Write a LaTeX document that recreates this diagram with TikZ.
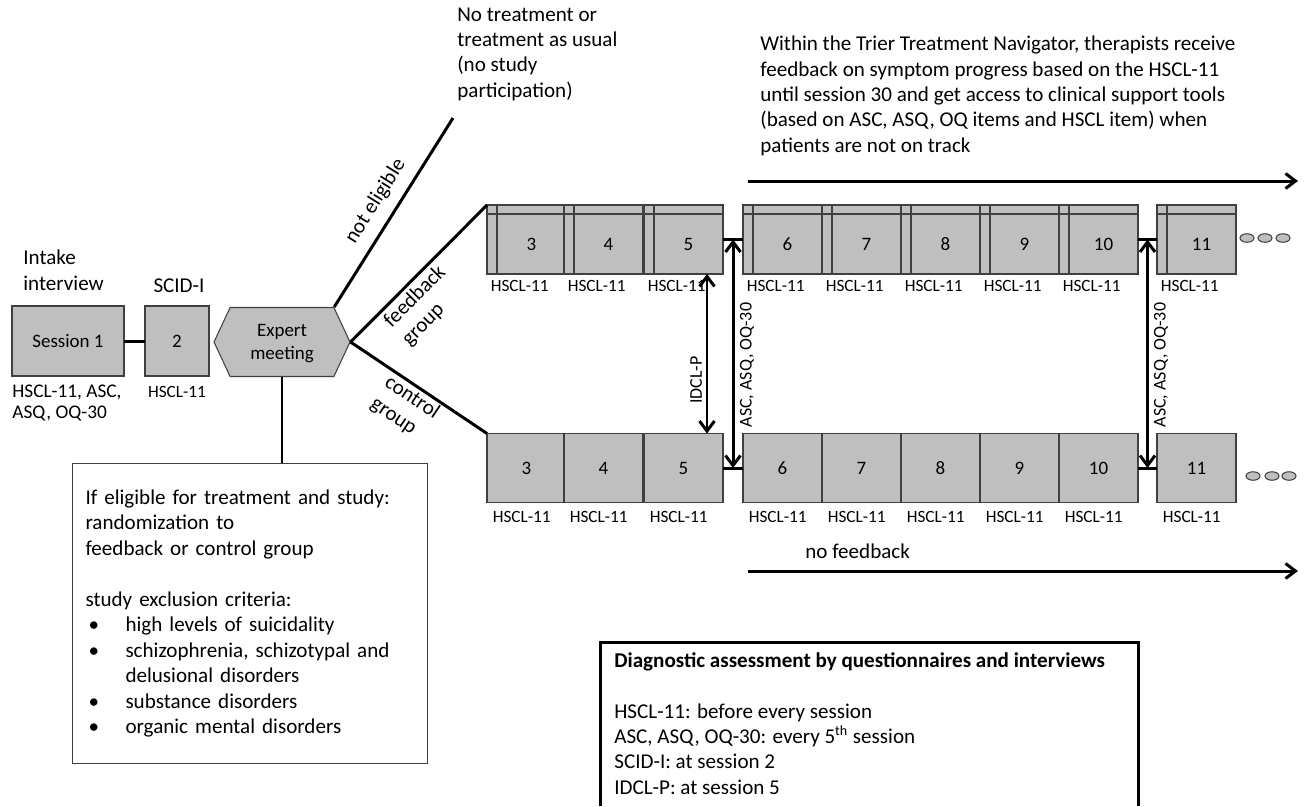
\documentclass[tikz,border=0pt]{standalone}
\usepackage{fontspec}
\setmainfont{Carlito}
\usetikzlibrary{arrows.meta,positioning,shapes.geometric,shapes.symbols,calc}

\definecolor{boxgray}{RGB}{191,191,191}
\definecolor{edgegray}{RGB}{64,64,64}

\newcommand{\itembul}{\makebox[0.8cm][l]{\hspace*{0.06cm}\textbullet}}

\tikzset{
  sess/.style={draw=edgegray, fill=boxgray, line width=0.6pt, minimum width=1.58cm,
    minimum height=1.38cm, inner sep=0pt, outer sep=0pt, font=\fontsize{10.8}{14.4}\selectfont},
  fbsess/.style={sess, text height=0.42cm, text depth=0pt,
    execute at begin node={\hspace*{0.2cm}},
    path picture={
      \draw[edgegray, line width=0.6pt] ([xshift=0.2cm]path picture bounding box.north west)
        -- ([xshift=0.2cm]path picture bounding box.south west);
      \draw[edgegray, line width=0.6pt] ([yshift=-0.18cm]path picture bounding box.north west)
        -- ([yshift=-0.18cm]path picture bounding box.north east);}},
  hscl/.style={font=\fontsize{9.8}{12}\selectfont, inner sep=0pt, align=left},
  txt/.style={font=\fontsize{12}{14.4}\selectfont, inner sep=0pt, align=left},
  dot/.style={ellipse, draw=edgegray, fill=boxgray, line width=0.6pt,
    minimum width=0.28cm, minimum height=0.17cm, inner sep=0pt},
  flow/.style={line width=1.7pt},
  tip/.style={flow, arrows={-Straight Barb[length=0.2cm,width=0.3cm]}},
  tipboth/.style={flow, arrows={Straight Barb[length=0.2cm,width=0.3cm]-Straight Barb[length=0.2cm,width=0.3cm]}},
}

\begin{document}
\begin{tikzpicture}[x=0.02cm,y=-0.02cm]
\useasboundingbox (0,0) rectangle (1304,806);

% ---------- intake, SCID-I and expert meeting ----------
\node[sess, minimum width=2.24cm, minimum height=1.4cm] (s1) at (68,341) {Session 1};
\node[sess, minimum width=1.28cm, minimum height=1.4cm] (s2) at (177,341) {2};
\draw[flow] (s1) -- (s2);
% base of a multi-line node = baseline of its last line
\node[txt, anchor=base west] (intake) at (23,290) {Intake\\interview};
\node[txt, anchor=base] (scid) at (179,292) {SCID-I};
\node[hscl, font=\fontsize{11}{11.4}\selectfont, anchor=base west] (s1lab) at (12,418) {HSCL-11, ASC,\\ASQ, OQ-30};
\node[hscl, anchor=base] (s2lab) at (177,397) {HSCL-11};

\node[signal, signal to=west and east, signal pointer angle=130, draw=edgegray, fill=boxgray,
  line width=0.6pt, minimum width=2.72cm, minimum height=1.38cm, txt, font=\fontsize{10.8}{13}\selectfont,
  align=center, text depth=0pt] (expert) at (282,342) {Expert\\meeting};

% ---------- eligibility box ----------
\node[draw=edgegray, line width=0.6pt, anchor=north west, text width=6.58cm, inner xsep=0.26cm,
  inner ysep=0pt, minimum height=6cm, font=\fontsize{12}{14.5}\selectfont, align=left]
  (elig) at (72,463) {If eligible for treatment and study:\\
  randomization to\\
  feedback or control group\\[14.5pt]
  study exclusion criteria:\\
  \itembul high levels of suicidality\\
  \itembul schizophrenia, schizotypal and\\
  \hspace*{0.8cm}delusional disorders\\
  \itembul substance disorders\\
  \itembul organic mental disorders};
\draw[flow] (expert.south) -- (expert.south |- elig.north);

% ---------- branches ----------
\node[txt, anchor=base west] (notx) at (457,97) {No treatment or\\treatment as usual\\(no study\\participation)};
\coordinate (notreat) at (453,118);
\draw[flow] (expert.north east) -- node[midway, sloped, above=6pt, txt] {not eligible} (notreat);

% ---------- feedback and control rows ----------
\foreach \n/\x in {3/526.5,4/603.5,5/683.5,6/782.5,7/861.5,8/940.5,9/1019.5,10/1098.5,11/1196.5}{
  \node[fbsess] (f\n) at (\x,239.5) {\n};
  \node[hscl, anchor=west] (fl\n) at ({\x-36},286) {HSCL-11};
  \node[sess] (c\n) at (\x,468) {\n};
  \node[hscl, anchor=west] (cl\n) at ({\x-34},517) {HSCL-11};
}
\draw[flow] (expert.east) -- node[pos=0.4, sloped, below=2pt, txt] {feedback\\group} (f3.north west);
\draw[flow] (expert.east) -- node[midway, sloped, below=1pt, txt] {control\\group} (c3.north west);

\draw[flow] (f5) -- (f6);
\draw[flow] (f10) -- (f11);
\draw[flow] (c5) -- (c6);
\draw[flow] (c10) -- (c11);

\foreach \i/\x in {1/1247,2/1265,3/1283}{\node[dot] (fdot\i) at (\x,238) {};}
\foreach \i/\x in {1/1253,2/1272,3/1289}{\node[dot] (cdot\i) at (\x,476) {};}

% ---------- assessments between the rows ----------
\coordinate (j5f) at ($(f5.east)!0.5!(f6.west)$);
\coordinate (j5c) at ($(c5.east)!0.5!(c6.west)$);
\coordinate (j10f) at ($(f10.east)!0.5!(f11.west)$);
\coordinate (j10c) at ($(c10.east)!0.5!(c11.west)$);
\draw[tipboth] (j5f) -- (j5c);
\draw[tipboth] (j10f) -- (j10c);
\draw[tipboth] ([xshift=-0.32cm]f5.south east) -- ([xshift=-0.32cm]c5.north east);
\node[hscl, font=\fontsize{10.2}{12}\selectfont, rotate=90] (idcl) at (696,380) {IDCL-P};
\node[hscl, font=\fontsize{10.2}{12}\selectfont, rotate=90] (asc5) at (747,365) {ASC, ASQ, OQ-30};
\node[hscl, font=\fontsize{10.2}{12}\selectfont, rotate=90] (asc10) at (1161,365) {ASC, ASQ, OQ-30};

% ---------- feedback / no feedback ----------
\node[txt, anchor=base west] (navx) at (760,152) {Within the Trier Treatment Navigator, therapists receive\\
  feedback on symptom progress based on the HSCL-11\\
  until session 30 and get access to clinical support tools\\
  (based on ASC, ASQ, OQ items and HSCL item) when\\
  patients are not on track};
\coordinate (fbstart) at (748,181);
\coordinate (fbend) at (1298,181);
\draw[tip] (fbstart) -- (fbend);
\node[txt, anchor=base west] (nofb) at (805,558) {no feedback};
\coordinate (nfstart) at (748,571);
\coordinate (nfend) at (1298,571);
\draw[tip] (nfstart) -- (nfend);

% ---------- legend ----------
\draw[flow] (600,806) -- (600,642) -- (1138,642) -- (1138,806);
\node[txt, anchor=base west] (legend) at (614,794) {\textbf{Diagnostic assessment by questionnaires and interviews}\\[14.4pt]
  HSCL-11: before every session\\
  ASC, ASQ, OQ-30: every 5\textsuperscript{th} session\\
  SCID-I: at session 2\\
  IDCL-P: at session 5};
\end{tikzpicture}
\end{document}
